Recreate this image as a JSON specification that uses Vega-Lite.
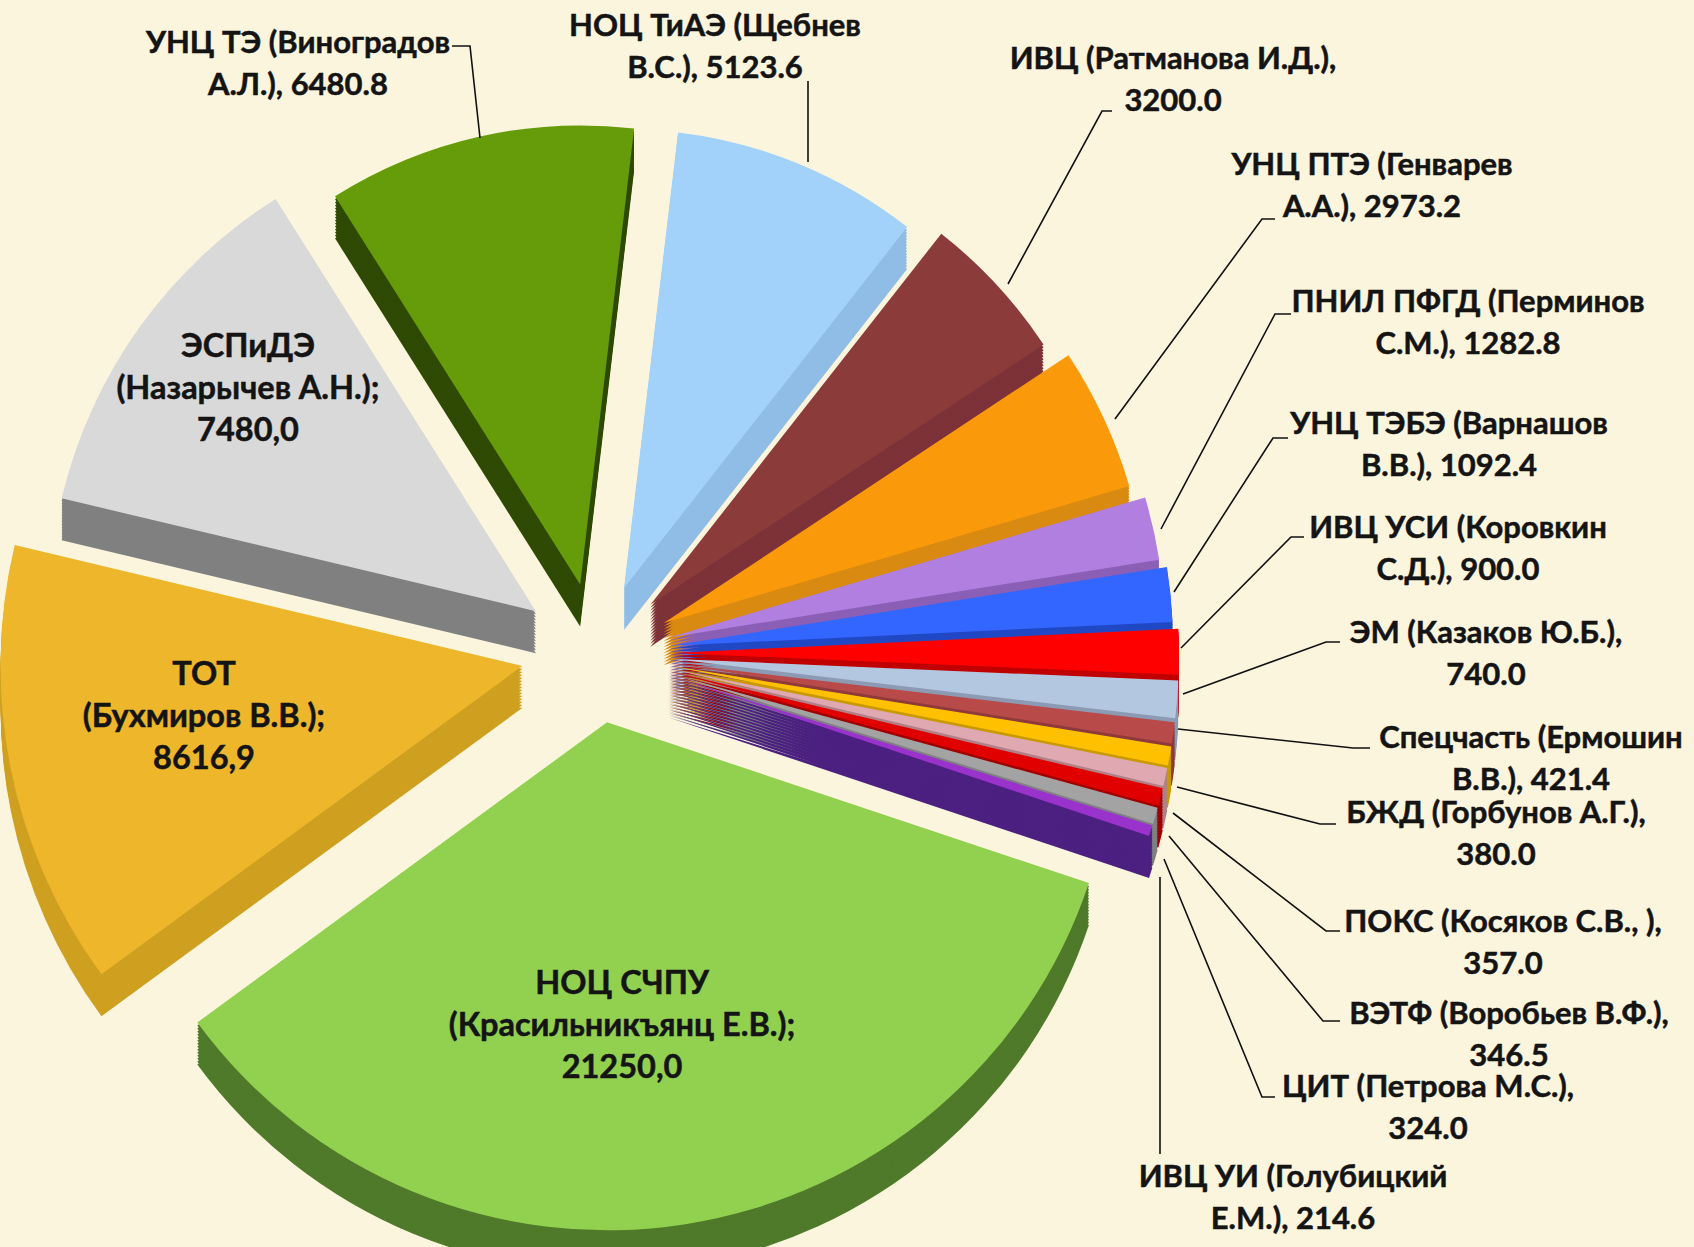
{"$schema":"https://vega.github.io/schema/vega-lite/v6.json","width":1694,"height":1247,"padding":0,"autosize":{"type":"fit","contains":"padding"},"background":"#FBF5DD","view":{"stroke":null},
"datasets":{
"slices":[
{"id":"a","name":"НОЦ ТиАЭ (Щебнев В.С.)","value":5123.6,"order":1},
{"id":"b","name":"ИВЦ (Ратманова И.Д.)","value":3200.0,"order":2},
{"id":"c","name":"УНЦ ПТЭ (Генварев А.А.)","value":2973.2,"order":3},
{"id":"d","name":"ПНИЛ ПФГД (Перминов С.М.)","value":1282.8,"order":4},
{"id":"e","name":"УНЦ ТЭБЭ (Варнашов В.В.)","value":1092.4,"order":5},
{"id":"f","name":"ИВЦ УСИ (Коровкин С.Д.)","value":900.0,"order":6},
{"id":"g","name":"ЭМ (Казаков Ю.Б.)","value":740.0,"order":7},
{"id":"h","name":"Спецчасть (Ермошин В.В.)","value":421.4,"order":8},
{"id":"i","name":"БЖД (Горбунов А.Г.)","value":380.0,"order":9},
{"id":"j","name":"ПОКС (Косяков С.В., )","value":357.0,"order":10},
{"id":"k","name":"ВЭТФ (Воробьев В.Ф.)","value":346.5,"order":11},
{"id":"l","name":"ЦИТ (Петрова М.С.)","value":324.0,"order":12},
{"id":"m","name":"ИВЦ УИ (Голубицкий Е.М.)","value":214.6,"order":13},
{"id":"n","name":"НОЦ СЧПУ (Красильникъянц Е.В.)","value":21250.0,"order":14},
{"id":"o","name":"ТОТ (Бухмиров В.В.)","value":8616.9,"order":15},
{"id":"p","name":"ЭСПиДЭ (Назарычев А.Н.)","value":7480.0,"order":16},
{"id":"q","name":"УНЦ ТЭ (Виноградов А.Л.)","value":6480.8,"order":17}
],
"labels":[
{"t":"УНЦ ТЭ (Виноградов\nА.Л.), 6480.8","lx":298,"ly":44},
{"t":"НОЦ ТиАЭ (Щебнев\nВ.С.), 5123.6","lx":715,"ly":27},
{"t":"ИВЦ (Ратманова И.Д.),\n3200.0","lx":1173,"ly":60},
{"t":"УНЦ ПТЭ (Генварев\nА.А.), 2973.2","lx":1372,"ly":166},
{"t":"ПНИЛ ПФГД (Перминов\nС.М.), 1282.8","lx":1468,"ly":303},
{"t":"УНЦ ТЭБЭ (Варнашов\nВ.В.), 1092.4","lx":1449,"ly":425},
{"t":"ИВЦ УСИ (Коровкин\nС.Д.), 900.0","lx":1458,"ly":529},
{"t":"ЭМ (Казаков Ю.Б.),\n740.0","lx":1486,"ly":634},
{"t":"Спецчасть (Ермошин\nВ.В.), 421.4","lx":1531,"ly":739},
{"t":"БЖД (Горбунов А.Г.),\n380.0","lx":1496,"ly":814},
{"t":"ПОКС (Косяков С.В., ),\n357.0","lx":1503,"ly":923},
{"t":"ВЭТФ (Воробьев В.Ф.),\n346.5","lx":1509,"ly":1015},
{"t":"ЦИТ (Петрова М.С.),\n324.0","lx":1428,"ly":1088},
{"t":"ИВЦ УИ (Голубицкий\nЕ.М.), 214.6","lx":1293,"ly":1178}
],
"innerLabels":[
{"t":"НОЦ СЧПУ\n(Красильникъянц Е.В.);\n21250,0","lx":622,"ly":984},
{"t":"ТОТ\n(Бухмиров В.В.);\n8616,9","lx":204,"ly":675},
{"t":"ЭСПиДЭ\n(Назарычев А.Н.);\n7480,0","lx":248,"ly":347}
],
"leaders":[
{"k":"q","s":1,"px":452,"py":46},{"k":"q","s":2,"px":470,"py":46},{"k":"q","s":3,"px":480,"py":138},
{"k":"a","s":1,"px":808,"py":81},{"k":"a","s":2,"px":808,"py":162},
{"k":"b","s":1,"px":1112,"py":111},{"k":"b","s":2,"px":1102,"py":111},{"k":"b","s":3,"px":1008,"py":284},
{"k":"c","s":1,"px":1275,"py":219},{"k":"c","s":2,"px":1262,"py":219},{"k":"c","s":3,"px":1115,"py":419},
{"k":"d","s":1,"px":1291,"py":314},{"k":"d","s":2,"px":1275,"py":314},{"k":"d","s":3,"px":1161,"py":529},
{"k":"e","s":1,"px":1288,"py":438},{"k":"e","s":2,"px":1273,"py":438},{"k":"e","s":3,"px":1174,"py":592},
{"k":"f","s":1,"px":1304,"py":537},{"k":"f","s":2,"px":1291,"py":537},{"k":"f","s":3,"px":1181,"py":648},
{"k":"g","s":1,"px":1340,"py":642},{"k":"g","s":2,"px":1326,"py":642},{"k":"g","s":3,"px":1183,"py":694},
{"k":"h","s":1,"px":1370,"py":748},{"k":"h","s":2,"px":1353,"py":748},{"k":"h","s":3,"px":1178,"py":729},
{"k":"i","s":1,"px":1336,"py":824},{"k":"i","s":2,"px":1320,"py":824},{"k":"i","s":3,"px":1177,"py":787},
{"k":"j","s":1,"px":1340,"py":931},{"k":"j","s":2,"px":1326,"py":931},{"k":"j","s":3,"px":1173,"py":813},
{"k":"k","s":1,"px":1340,"py":1021},{"k":"k","s":2,"px":1323,"py":1021},{"k":"k","s":3,"px":1169,"py":836},
{"k":"l","s":1,"px":1275,"py":1097},{"k":"l","s":2,"px":1262,"py":1097},{"k":"l","s":3,"px":1164,"py":859},
{"k":"m","s":1,"px":1160,"py":1154},{"k":"m","s":2,"px":1160,"py":877}
]},
"layer":[
{"data":{"name":"slices"},
"transform":[
{"stack":"value","sort":[{"field":"order"}],"as":["start","end"]},
{"calculate":"0.12+((datum.start+datum.end)/2)/61183.2*2*PI","as":"ang"},
{"calculate":"596+75*sin(datum.ang)","as":"ex"},
{"calculate":"653-70*cos(datum.ang)","as":"ey0"},
{"calculate":"508-53*max(0,cos(datum.ang))+14*max(0,-sin(datum.ang))","as":"r"},
{"calculate":"[42,39,36,33,30,27,24,21,18,15,12,9,6,3,0]","as":"depth"},
{"flatten":["depth"]},
{"calculate":"datum.ey0+datum.depth","as":"ey"},
{"calculate":"datum.order*100-datum.depth","as":"paint"},
{"calculate":"datum.id+(datum.depth>0?'w':'t')","as":"face"}
],
"mark":{"type":"arc"},
"encoding":{
"x":{"field":"ex","type":"quantitative","scale":{"domain":[0,1694],"range":[0,1694],"nice":false,"zero":false},"axis":null},
"y":{"field":"ey","type":"quantitative","scale":{"domain":[0,1247],"range":[0,1247],"nice":false,"zero":false},"axis":null},
"theta":{"field":"start","type":"quantitative","stack":null,"scale":{"domain":[0,5123.6,17355.5,38605.5,47222.4,54702.4,61183.2],"range":[0.118,0.665,1.893,4.08,4.946,5.72,6.401]}},
"theta2":{"field":"end"},
"radius":{"field":"r","type":"quantitative","scale":{"type":"linear","domain":[0,600],"range":[0,600],"zero":true}},
"order":{"field":"paint","type":"quantitative"},
"color":{"field":"face","type":"nominal","legend":null,"scale":{
"domain":["at","aw","bt","bw","ct","cw","dt","dw","et","ew","ft","fw","gt","gw","ht","hw","it","iw","jt","jw","kt","kw","lt","lw","mt","mw","nt","nw","ot","ow","pt","pw","qt","qw"],
"range":["#A2D2FA","#8FBDE6","#8C3B3B","#7C3238","#FA9A0B","#D98A10","#B07FE0","#8A5FB5","#3366FF","#2148C4","#FF0000","#C00000","#B3C7E0","#8C9BB3","#B84A4A","#8E3A3A","#FFC000","#C89A00","#E0A8B0","#B08088","#E00000","#A00000","#A3A3A3","#808080","#9933CC","#4B2080","#92D050","#4F7A2A","#EDB62B","#CFA020","#D9D9D9","#808080","#669C0A","#2F4A04"]}}
}},
{"data":{"name":"leaders"},
"mark":{"type":"line","color":"#111111","strokeWidth":1.6,"interpolate":"linear"},
"encoding":{
"x":{"field":"px","type":"quantitative"},
"y":{"field":"py","type":"quantitative"},
"detail":{"field":"k"},
"order":{"field":"s","type":"ordinal"}
}},
{"data":{"name":"labels"},
"mark":{"type":"text","font":"Lato","fontWeight":"bold","fontSize":31,"lineHeight":42,"lineBreak":"\n","align":"center","baseline":"middle","color":"#141414","stroke":"#141414","strokeWidth":0.5},
"encoding":{
"x":{"field":"lx","type":"quantitative"},
"y":{"field":"ly","type":"quantitative"},
"text":{"field":"t"}
}},
{"data":{"name":"innerLabels"},
"mark":{"type":"text","font":"Lato","fontWeight":"bold","fontSize":32.5,"lineHeight":42,"lineBreak":"\n","align":"center","baseline":"middle","color":"#141414","stroke":"#141414","strokeWidth":0.5},
"encoding":{
"x":{"field":"lx","type":"quantitative"},
"y":{"field":"ly","type":"quantitative"},
"text":{"field":"t"}
}}
]}
